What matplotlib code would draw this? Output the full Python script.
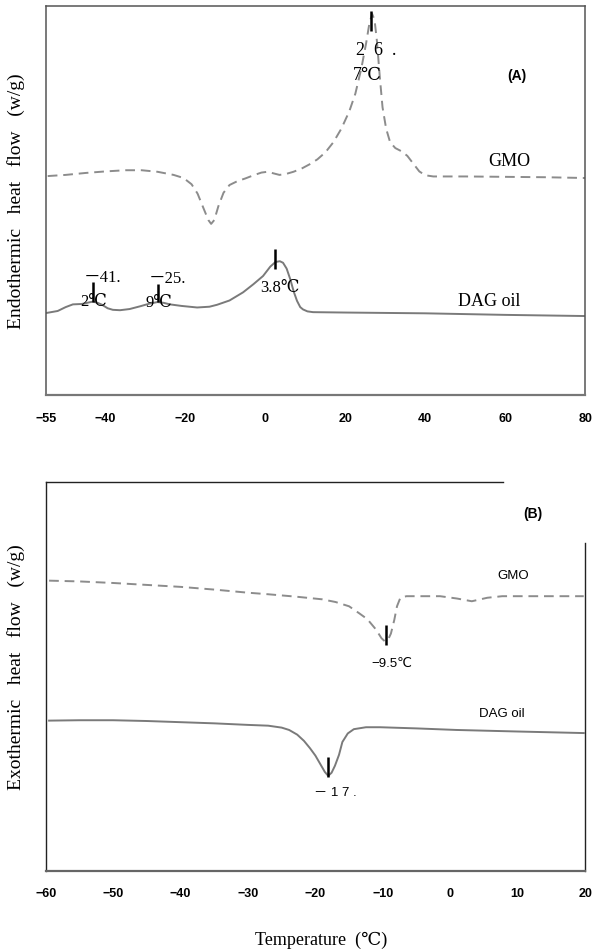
import matplotlib.pyplot as plt

# ================================================================
#  DSC curves: (A) melting / endothermic, (B) crystallization / exothermic
#  y values are arbitrary heat-flow units (axis has no numbers)
# ================================================================

SERIF = ['Liberation Serif', 'DejaVu Serif', 'Noto Sans CJK KR']
SANS = ['Liberation Sans', 'DejaVu Sans', 'Noto Sans CJK KR']

# ---- Panel A: GMO (dashed) ----
gmo_a_temp = [-54.5, -50, -45, -40, -35, -31, -27, -23, -20.5, -18.5, -17, -15.5, -14.3,
              -13.6, -12.8, -11.8, -10.5, -9, -7, -5, -3, -1, 0.5, 2, 3.5, 5, 7, 9, 11, 13,
              15, 17, 19, 21, 22.5, 24, 25.2, 26, 26.7, 27.3, 27.9, 28.6, 29.3, 30.2, 31.2,
              32.5, 34, 35.5, 37, 38.5, 40, 42, 50, 60, 70, 80]
gmo_a_flow = [5.63, 5.66, 5.71, 5.75, 5.78, 5.78, 5.74, 5.66, 5.58, 5.42, 5.18, 4.80, 4.50,
              4.40, 4.50, 4.85, 5.20, 5.40, 5.50, 5.57, 5.65, 5.72, 5.74, 5.70, 5.66, 5.68,
              5.74, 5.82, 5.93, 6.06, 6.24, 6.50, 6.85, 7.30, 7.75, 8.40, 9.05, 9.55, 9.80,
              9.65, 9.10, 8.20, 7.40, 6.85, 6.50, 6.35, 6.27, 6.15, 5.95, 5.75, 5.65, 5.62,
              5.62, 5.61, 5.60, 5.58]

# ---- Panel A: DAG oil (solid) ----
dag_a_temp = [-54.75, -52, -50, -48.2, -46, -44.2, -43.2, -42, -40.9, -39.5, -38.2, -36.4,
              -34, -31.4, -29, -27, -25.5, -23.9, -21, -17.1, -14, -12.1, -9, -5.6, -3, -0.6,
              1.2, 2.5, 3.6, 4.4, 5.3, 6.2, 7.1, 7.9, 8.7, 9.4, 10.5, 11.9, 20, 40, 60, 80]
dag_a_flow = [2.11, 2.16, 2.26, 2.33, 2.34, 2.38, 2.40, 2.37, 2.32, 2.23, 2.19, 2.18, 2.21,
              2.28, 2.35, 2.39, 2.37, 2.33, 2.29, 2.25, 2.27, 2.32, 2.43, 2.64, 2.85, 3.06,
              3.30, 3.42, 3.44, 3.40, 3.25, 2.98, 2.65, 2.42, 2.26, 2.20, 2.15, 2.13, 2.12,
              2.10, 2.06, 2.03]

# peak markers A (temperature, low, high)
peak_a_temp = [26.4, -43.15, -26.9, 2.4]
peak_a_low = [9.36, 2.39, 2.39, 3.24]
peak_a_high = [9.87, 2.90, 2.85, 3.75]

# ---- Panel B: GMO (dashed) ----
gmo_b_temp = [-59.5, -55, -50, -45, -40, -35, -30, -27, -23, -19, -17, -15, -13.5, -12.3,
              -11, -10.2, -9.7, -9.2, -8.8, -8.3, -7.9, -7.4, -6.5, -4, -1.5, 1, 3.2, 5.5,
              7.7, 12, 19.8]
gmo_b_flow = [7.46, 7.44, 7.40, 7.35, 7.30, 7.23, 7.15, 7.11, 7.05, 6.98, 6.91, 6.80, 6.62,
              6.47, 6.20, 5.98, 5.90, 5.95, 6.10, 6.45, 6.80, 7.02, 7.06, 7.06, 7.06, 7.00,
              6.93, 7.02, 7.06, 7.06, 7.06]

# ---- Panel B: DAG oil (solid) ----
dag_b_temp = [-59.5, -55, -50, -45, -40, -35, -30, -27, -25, -23.9, -22.7, -21.7, -20.8,
              -20, -19.2, -18.6, -18.1, -17.6, -17.1, -16.5, -16, -15.2, -14.3, -12.5,
              -10.4, -5, 0.9, 10, 19.8]
dag_b_flow = [3.86, 3.87, 3.87, 3.85, 3.82, 3.79, 3.75, 3.73, 3.68, 3.62, 3.50, 3.34, 3.15,
              2.96, 2.72, 2.54, 2.44, 2.52, 2.70, 2.98, 3.31, 3.53, 3.64, 3.69, 3.69, 3.66,
              3.62, 3.58, 3.54]

peak_b_temp = [-9.5, -18.1]
peak_b_low = [5.80, 2.41]
peak_b_high = [6.32, 2.92]

ticks_a = [-55, -40, -20, 0, 20, 40, 60, 80]
ticks_b = [-60, -50, -40, -30, -20, -10, 0, 10, 20]

fig = plt.figure(figsize=(5.96, 9.53), dpi=100)
axA = fig.add_axes([0.0767, 0.5845, 0.905, 0.408])
axB = fig.add_axes([0.0767, 0.0853, 0.905, 0.408])

# ---------------- (A) ----------------
axA.plot(gmo_a_temp, gmo_a_flow, color='#8c8c8c', lw=1.4, linestyle=(0, (5, 3)))
axA.plot(dag_a_temp, dag_a_flow, color='#7a7a7a', lw=1.4)
axA.vlines(peak_a_temp, peak_a_low, peak_a_high, color='black', lw=1.8)
axA.set_xlim(-55, 80)
axA.set_ylim(0, 10)
axA.set_xticks(ticks_a)
axA.set_yticks([])
axA.tick_params(axis='x', length=0, pad=12)
for lab in axA.get_xticklabels():
    lab.set_fontfamily(SANS)
    lab.set_fontweight('bold')
    lab.set_fontsize(9)
for s in axA.spines.values():
    s.set_color('#555555')
    s.set_linewidth(1.1)
axA.spines['bottom'].set_color('#777777')
axA.spines['bottom'].set_linewidth(1.6)

axA.text(61.0, 6.02, 'GMO', family=SERIF, fontsize=13, ha='center', va='center')
axA.text(56.0, 2.42, 'DAG oil', family=SERIF, fontsize=13, ha='center', va='center')
axA.text(63.0, 8.23, '(A)', family=SANS, fontsize=10, fontweight='bold', ha='center', va='center')
axA.text(27.7, 8.89, '2  6  .', family=SERIF, fontsize=13, ha='center', va='center')
axA.text(25.6, 8.25, '7℃', family=SERIF, fontsize=13, ha='center', va='center')
axA.text(-40.9, 3.03, '－41.', family=SERIF, fontsize=12, ha='center', va='center')
axA.text(-43.0, 2.42, '2℃', family=SERIF, fontsize=12, ha='center', va='center')
axA.text(-24.6, 3.01, '－25.', family=SERIF, fontsize=12, ha='center', va='center')
axA.text(-26.7, 2.39, '9℃', family=SERIF, fontsize=12, ha='center', va='center')
axA.text(3.6, 2.78, '3.8℃', family=SERIF, fontsize=12, ha='center', va='center')
axA.set_ylabel('Endothermic   heat   flow   (w/g)', family=SERIF, fontsize=14)
axA.yaxis.set_label_coords(-0.039, 0.5)

# ---------------- (B) ----------------
axB.plot(gmo_b_temp, gmo_b_flow, color='#8c8c8c', lw=1.4, linestyle=(0, (5, 3)))
axB.plot(dag_b_temp, dag_b_flow, color='#7a7a7a', lw=1.4)
axB.vlines(peak_b_temp, peak_b_low, peak_b_high, color='black', lw=1.8)
axB.set_xlim(-60, 20)
axB.set_ylim(0, 10)
axB.set_xticks(ticks_b)
axB.set_yticks([])
axB.tick_params(axis='x', length=0, pad=12)
for lab in axB.get_xticklabels():
    lab.set_fontfamily(SANS)
    lab.set_fontweight('bold')
    lab.set_fontsize(9)
for s in axB.spines.values():
    s.set_color('#222222')
    s.set_linewidth(1.0)
axB.spines['bottom'].set_color('#666666')
axB.spines['bottom'].set_linewidth(1.6)
# the frame is open at the top-right corner
axB.spines['top'].set_bounds(-60, 7.8)
axB.spines['right'].set_bounds(0, 8.42)

axB.text(9.4, 7.6, 'GMO', family=SANS, fontsize=9.5, ha='center', va='center')
axB.text(7.7, 4.05, 'DAG oil', family=SANS, fontsize=9.5, ha='center', va='center')
axB.text(12.3, 9.2, '(B)', family=SANS, fontsize=10, fontweight='bold', ha='center', va='center')
axB.text(-8.6, 5.34, '−9.5℃', family=SANS, fontsize=9.5, ha='center', va='center')
axB.text(-17.1, 2.03, '－ 1 7 .', family=SANS, fontsize=9.5, ha='center', va='center')
axB.set_ylabel('Exothermic   heat   flow   (w/g)', family=SERIF, fontsize=14)
axB.yaxis.set_label_coords(-0.039, 0.526)

fig.text(0.539, 1 - 940 / 953, 'Temperature  (℃)', family=SERIF, fontsize=13,
         ha='center', va='center')

plt.savefig('out.png', dpi=100)
